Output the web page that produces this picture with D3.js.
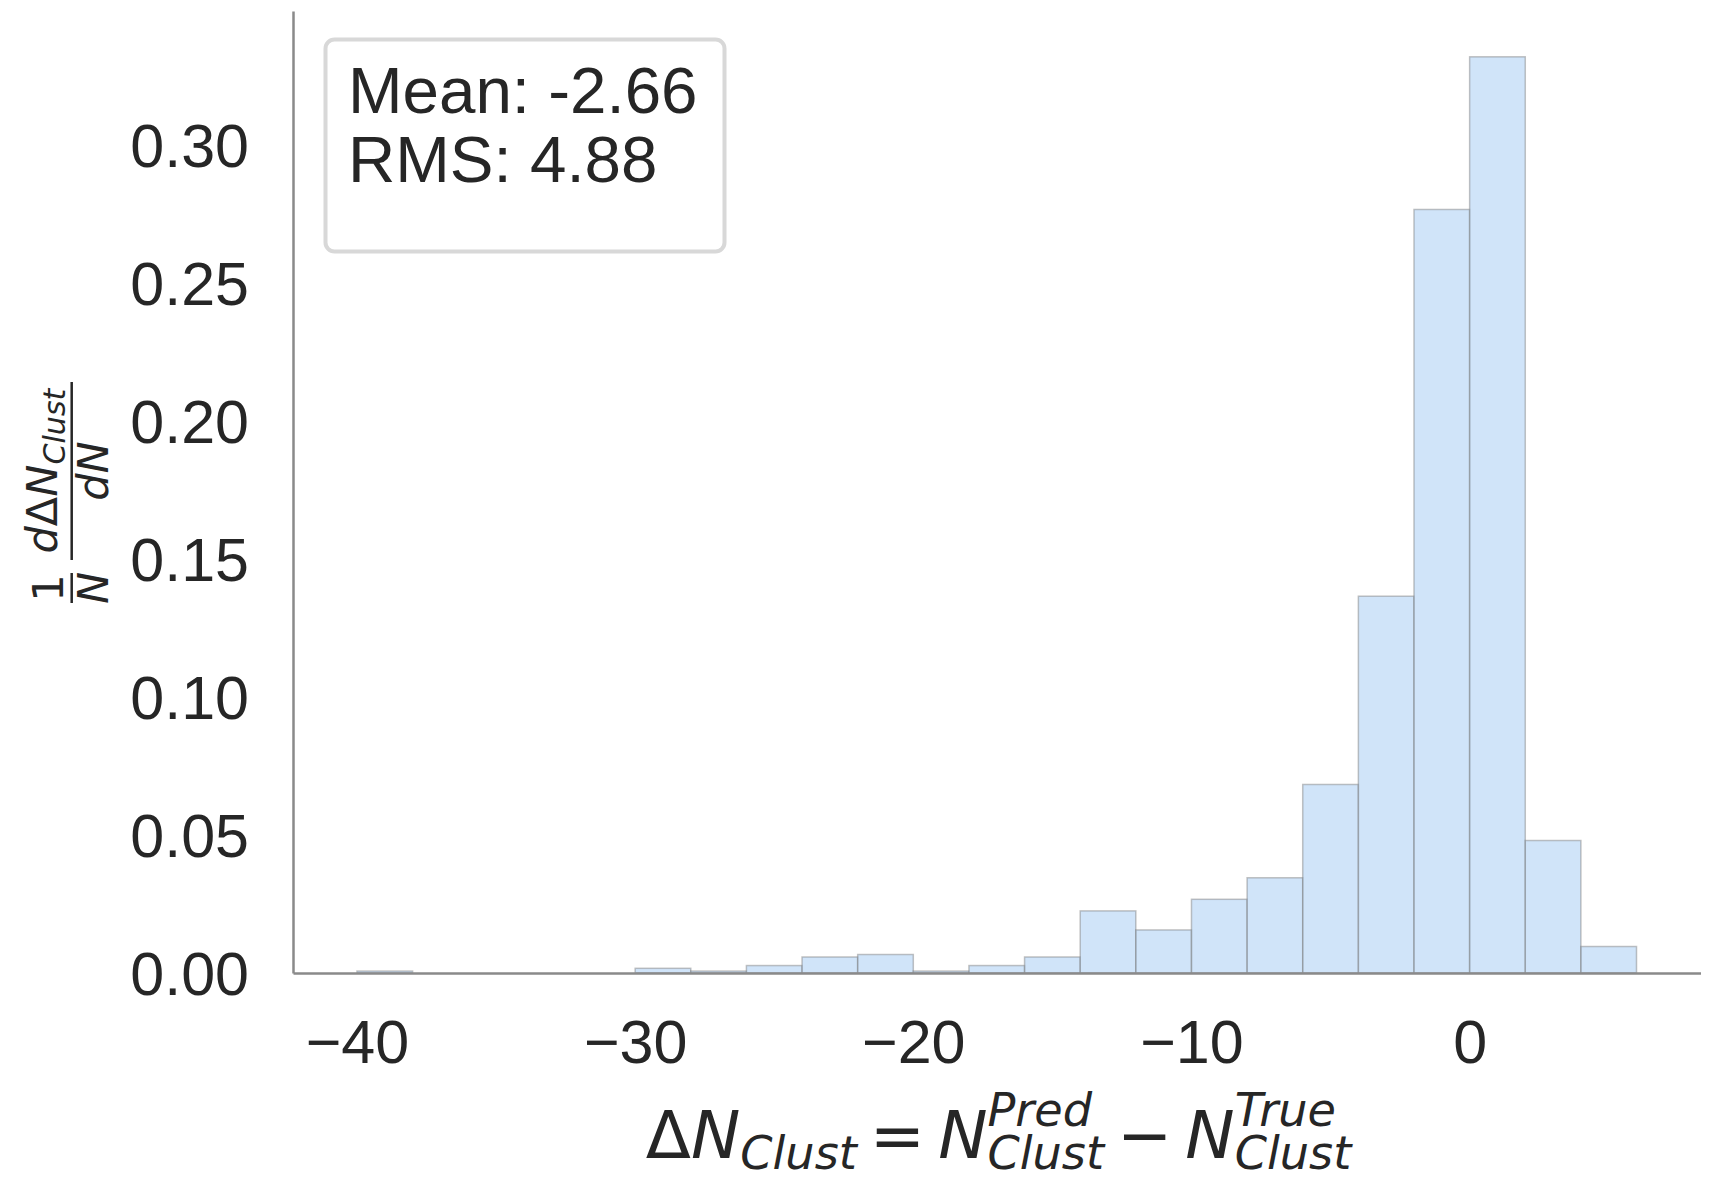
<!DOCTYPE html>
<html>
<head>
<meta charset="utf-8">
<script src="https://cdn.jsdelivr.net/npm/d3@7"></script>
<style>
  html, body { margin: 0; padding: 0; background: #ffffff; }
  svg { display: block; }
</style>
</head>
<body>
<svg id="chart" width="1718" height="1182"></svg>
<script>
// Histogram of the cluster-count residual, normalised to unit total.
// Each bin spans [start, start + 2).
const binStarts = [-40, -38, -36, -34, -32, -30, -28, -26, -24, -22, -20, -18,
                   -16, -14, -12, -10, -8, -6, -4, -2, 0, 2, 4];
const binFractions = [0.0007, 0, 0, 0, 0, 0.0017, 0.0007, 0.0027, 0.0058, 0.0067,
                      0.0007, 0.0027, 0.0058, 0.0225, 0.0156, 0.0267, 0.0345,
                      0.0683, 0.1365, 0.2766, 0.3319, 0.0480, 0.0096];
const binWidth = 2;

const xTicks = [-40, -30, -20, -10, 0];
const yTicks = [0.00, 0.05, 0.10, 0.15, 0.20, 0.25, 0.30];
const statLines = ["Mean: -2.66", "RMS: 4.88"];

const svg = d3.select("#chart");
const textColor = "#262626";
const spineColor = "#8a8a8a";
const tickFont = "'Liberation Sans', Arial, sans-serif";
const mathFont = "'DejaVu Sans', sans-serif";

const plot = { left: 293, right: 1700.5, top: 11, bottom: 973 };

const lo = d3.min(binStarts), hi = d3.max(binStarts) + binWidth;
const pad = (hi - lo) * 0.05;
const x = d3.scaleLinear().domain([lo - pad, hi + pad]).range([plot.left, plot.right]);
const yMax = d3.max(binFractions) * 1.05;
const y = d3.scaleLinear().domain([0, yMax]).range([plot.bottom, plot.top]);

// Bars
const bins = binStarts.map((s, i) => ({ x0: s, x1: s + binWidth, v: binFractions[i] }))
  .filter(d => d.v > 0);
svg.append("g").selectAll("rect").data(bins).join("rect")
  .attr("x", d => x(d.x0))
  .attr("y", d => y(d.v))
  .attr("width", d => x(d.x1) - x(d.x0))
  .attr("height", d => y(0) - y(d.v))
  .attr("fill", "#a1c9f4").attr("fill-opacity", 0.5)
  .attr("stroke", "#7a7a7a").attr("stroke-opacity", 0.45)
  .attr("stroke-width", 1.5);

// Axes
const xAxis = svg.append("g")
  .attr("transform", `translate(0,${plot.bottom})`)
  .call(d3.axisBottom(x).tickValues(xTicks).tickSize(0).tickSizeOuter(0).tickPadding(20)
        .tickFormat(d3.format("d")));
const yAxis = svg.append("g")
  .attr("transform", `translate(${plot.left},0)`)
  .call(d3.axisLeft(y).tickValues(yTicks).tickSize(0).tickSizeOuter(0).tickPadding(44)
        .tickFormat(d3.format(".2f")));

[xAxis, yAxis].forEach(g => {
  g.select(".domain").attr("stroke", spineColor).attr("stroke-width", 2.5);
  g.selectAll(".tick text")
    .attr("fill", textColor)
    .style("font-family", tickFont)
    .style("font-size", "61px");
});
xAxis.selectAll(".tick text").attr("dy", null).attr("y", 0)
  .attr("transform", "translate(0,90)");
yAxis.selectAll(".tick text").attr("dy", "0.36em");

// Stats box
svg.append("rect")
  .attr("x", 325.5).attr("y", 39.5).attr("width", 399).attr("height", 212)
  .attr("rx", 9).attr("ry", 9)
  .attr("fill", "#ffffff").attr("stroke", "#d8d8d8").attr("stroke-width", 4);
svg.append("g").selectAll("text").data(statLines).join("text")
  .attr("x", 348).attr("y", (d, i) => 112.5 + i * 69)
  .attr("fill", textColor)
  .style("font-family", tickFont).style("font-size", "65.5px")
  .text(d => d);

// Math-style label helper: lays out pieces left to right, stacking sup/sub.
function mathLabel(g, pieces, F) {
  const small = F * 0.7;
  let cx = 0;
  const put = (t, size, italic, dy) => {
    const el = g.append("text").attr("x", cx).attr("y", dy)
      .attr("fill", textColor)
      .style("font-family", mathFont).style("font-size", size + "px")
      .style("font-style", italic ? "italic" : "normal")
      .text(t);
    return el.node().getComputedTextLength();
  };
  pieces.forEach(p => {
    if (p.gap) { cx += p.gap; return; }
    if (p.t) { cx += put(p.t, F, p.it, 0); }
    const ws = [];
    if (p.sup) ws.push(put(p.sup, small, true, -F * 0.48));
    if (p.sub) ws.push(put(p.sub, small, true, F * 0.16));
    if (ws.length) cx += d3.max(ws);
  });
  return cx;
}

// x-axis label
const xl = svg.append("g");
const F = 66;
const xlWidth = mathLabel(xl, [
  { t: "Δ", it: false }, { t: "N", it: true }, { sub: "Clust" },
  { gap: 13 }, { t: "=", it: false }, { gap: 13 },
  { t: "N", it: true }, { sup: "Pred", sub: "Clust" },
  { gap: 13 }, { t: "−", it: false }, { gap: 13 },
  { t: "N", it: true }, { sup: "True", sub: "Clust" }
], F);
xl.attr("transform", `translate(${998.5 - xlWidth / 2},1158)`);

// y-axis label: (1/N) dΔN_Clust / dN, rotated
const yl = svg.append("g").attr("transform", "translate(71.7,603) rotate(-90)");
const FY = 43;
const fracText = (u, v, parts) => {
  const t = yl.append("text").attr("x", u).attr("y", v)
    .attr("text-anchor", "middle").attr("fill", textColor)
    .style("font-family", mathFont).style("font-size", FY + "px");
  parts.forEach(p => {
    const s = t.append("tspan").text(p.t)
      .style("font-style", p.it ? "italic" : "normal");
    if (p.size) s.style("font-size", p.size + "px");
    if (p.dy) s.attr("dy", p.dy);
  });
};
yl.append("line").attr("x1", 0).attr("x2", 30).attr("y1", 0).attr("y2", 0)
  .attr("stroke", textColor).attr("stroke-width", 2.5);
yl.append("line").attr("x1", 43).attr("x2", 221).attr("y1", 0).attr("y2", 0)
  .attr("stroke", textColor).attr("stroke-width", 2.5);
fracText(15, -9, [{ t: "1" }]);
fracText(15, 36, [{ t: "N", it: true }]);
fracText(132, -15, [{ t: "d", it: true }, { t: "Δ" }, { t: "N", it: true },
                    { t: "Clust", it: true, size: FY * 0.7, dy: 8 }]);
fracText(132, 36, [{ t: "dN", it: true }]);
</script>
</body>
</html>
